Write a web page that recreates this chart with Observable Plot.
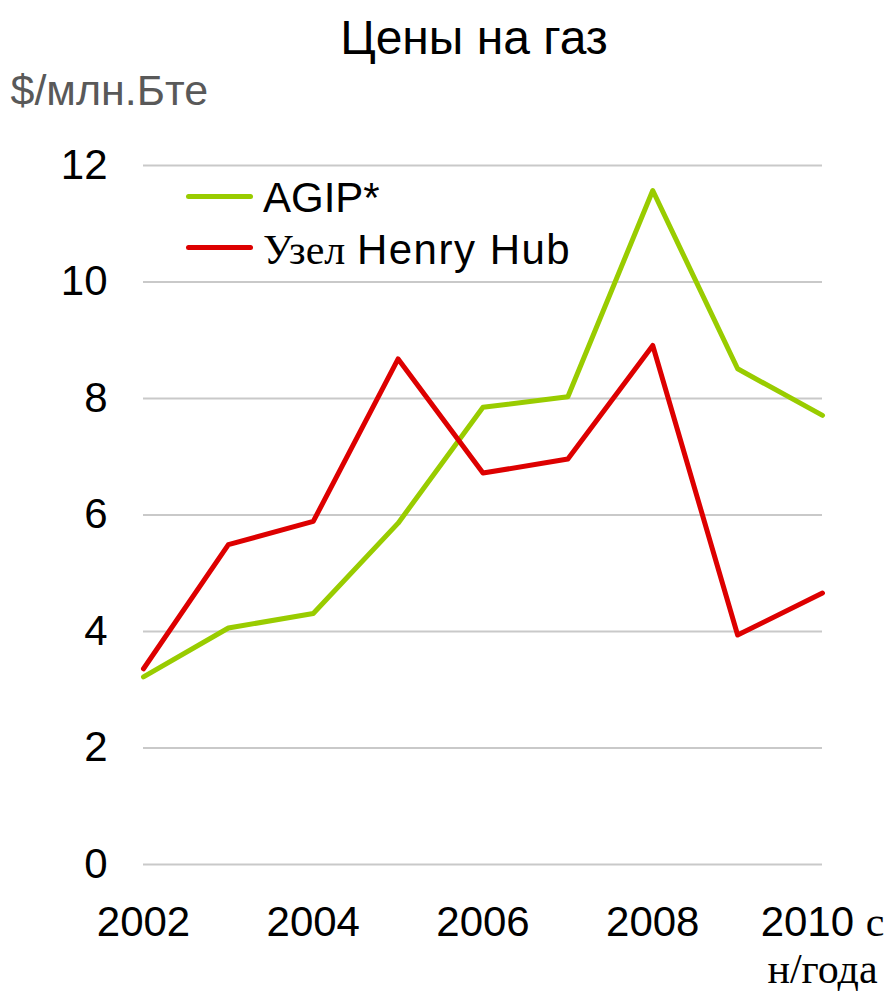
<!DOCTYPE html>
<html><head><meta charset="utf-8">
<script src="https://cdn.jsdelivr.net/npm/d3@7"></script>
<script src="https://cdn.jsdelivr.net/npm/@observablehq/plot@0.6"></script>
<style>
body{margin:0;background:#fff;}
#wrap{position:relative;width:890px;height:993px;overflow:hidden;}
.lg-text{position:absolute;font-family:"Liberation Sans",Arial,sans-serif;font-size:42px;line-height:42px;color:#000;white-space:nowrap;}
.lg-sw{position:absolute;width:67px;height:5px;border-radius:3px;}
.serif{font-family:"Liberation Serif","Times New Roman",serif;}
.spaced{letter-spacing:1.5px;}
</style></head><body><div id="wrap"></div>
<script>
const years = [2002, 2003, 2004, 2005, 2006, 2007, 2008, 2009, 2010];
const agip = [3.22, 4.06, 4.31, 5.86, 7.85, 8.03, 11.57, 8.51, 7.71];
const henryHub = [3.36, 5.49, 5.89, 8.68, 6.72, 6.96, 8.91, 3.94, 4.66];
const seriesNames = ["AGIP*", "Узел Henry Hub"];
const seriesColors = ["#99cc00", "#dd0000"];
const yTicks = [0, 2, 4, 6, 8, 10, 12];
const xTicks = [2002, 2004, 2006, 2008, 2010];
const xTickLabels = ["2002", "2004", "2006", "2008", "2010 с\nн/года"];
const titleText = "Цены на газ";
const unitText = "$/млн.Бте";

const data = years.flatMap((yr, i) => [
  {year: yr, value: agip[i], series: seriesNames[0]},
  {year: yr, value: henryHub[i], series: seriesNames[1]}
]);

const SERIF = '"Liberation Serif", "Times New Roman", serif';
const chart = Plot.plot({
  width: 890, height: 993,
  marginLeft: 143, marginRight: 68, marginTop: 165, marginBottom: 129,
  style: {fontFamily: '"Liberation Sans", Arial, sans-serif', fontSize: "42px", color: "#000", background: "#fff"},
  x: {domain: [2002, 2010]},
  y: {domain: [0, 12]},
  color: {domain: seriesNames, range: seriesColors},
  marks: [
    Plot.gridY(yTicks, {stroke: "#c9c9c9", strokeOpacity: 1, strokeWidth: 2}),
    Plot.axisY(yTicks, {tickSize: 0, tickPadding: 36, fontSize: 42, label: null, tickFormat: d => String(d)}),
    Plot.axisX(xTicks, {tickSize: 0, tickPadding: 39, fontSize: 42, lineHeight: 1.1, label: null,
      tickFormat: d => xTickLabels[xTicks.indexOf(d)]}),
    Plot.line(data, {x: "year", y: "value", stroke: "series", strokeWidth: 5, strokeLinejoin: "round", strokeLinecap: "round"}),
    Plot.text([titleText], {text: d => d, frameAnchor: "top", dx: -9, dy: -112, lineAnchor: "bottom", fontSize: 48, fill: "#000"}),
    Plot.text([unitText], {text: d => d, frameAnchor: "top-left", textAnchor: "start", dx: -133, dy: -61, lineAnchor: "bottom", fontSize: 43, fill: "#595959"})
  ]
});

// mixed fonts in the last x tick label
chart.querySelectorAll("text").forEach(t => {
  const sp = t.querySelectorAll("tspan");
  if (sp.length === 2 && sp[1].textContent.includes("н/года")) {
    sp[0].textContent = "2010 ";
    const s = document.createElementNS("http://www.w3.org/2000/svg", "tspan");
    s.setAttribute("font-family", SERIF);
    s.textContent = "с";
    sp[0].appendChild(s);
    sp[1].setAttribute("font-family", SERIF);
  }
});

const wrap = document.getElementById("wrap");
wrap.appendChild(chart);

// legend
const legendRows = [{cy: 196, base: 213}, {cy: 247, base: 265}];
seriesNames.forEach((name, i) => {
  const sw = document.createElement("div");
  sw.className = "lg-sw";
  sw.style.left = "186px";
  sw.style.top = (legendRows[i].cy - 2.5) + "px";
  sw.style.background = seriesColors[i];
  wrap.appendChild(sw);
  const tx = document.createElement("div");
  tx.className = "lg-text";
  tx.style.left = "263px";
  tx.style.top = (legendRows[i].base - 35.6) + "px";
  if (name.startsWith("Узел")) {
    tx.innerHTML = '<span class="serif">Узел</span> <span class="spaced">Henry Hub</span>';
  } else {
    tx.textContent = name;
  }
  wrap.appendChild(tx);
});
</script>
</body></html>
